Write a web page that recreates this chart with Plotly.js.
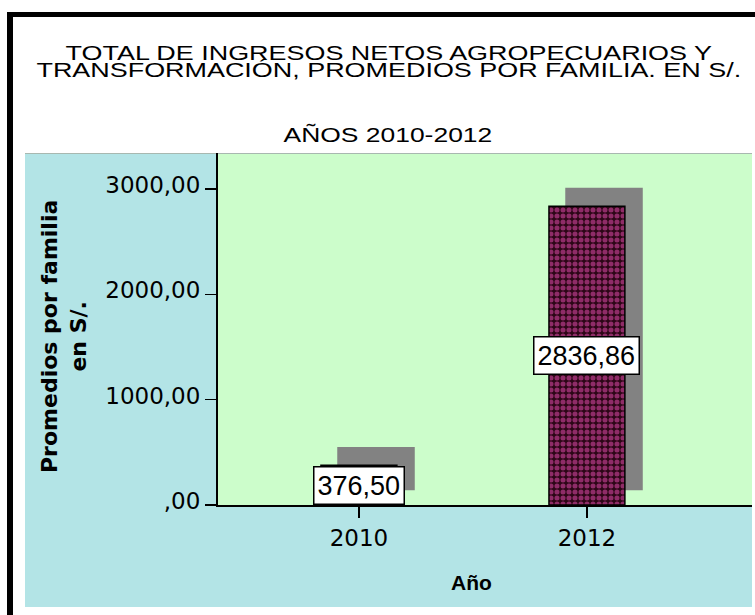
<!DOCTYPE html>
<html><head><meta charset="utf-8">
<script src="https://cdn.plot.ly/plotly-3.0.1.min.js"></script>
<style>html,body{margin:0;padding:0;background:#fff;} #chart{width:755px;height:615px;}</style>
</head><body><div id="chart"></div>
<script>
// ---- data ----
const years = ['2010', '2012'];
const promedios = [376.50, 2836.86];
const valueLabels = ['376,50', '2836,86'];
const yTickVals = [0, 1000, 2000, 3000];
const yTickText = [',00', '1000,00', '2000,00', '3000,00'];
const titleLine1 = 'TOTAL DE INGRESOS NETOS AGROPECUARIOS Y';
const titleLine2 = 'TRANSFORMACIÓN, PROMEDIOS POR FAMILIA. EN S/.';
const subtitle = 'AÑOS 2010-2012';
const yTitle = 'Promedios por familia<br>en S/.';
const xTitle = 'Año';

// ---- style / geometry ----
const W = 755, H = 615, L = 218, R = 3, T = 153, B = 110;
const pw = W - L - R, ph = H - T - B;
const px = x => (x - L) / pw;
const py = y => (H - B - y) / ph;
const shadowBase = 140, shadowRise = 175;
const ARIAL = 'Liberation Sans, Arial, sans-serif';
const DEJAVU = 'DejaVu Sans, Verdana, sans-serif';

const shadow = {
  type: 'bar', x: years,
  y: promedios.map(v => v + shadowRise - shadowBase),
  base: shadowBase, width: 0.34, offset: -0.095,
  marker: {color: '#828282', line: {width: 0}},
  hoverinfo: 'skip', showlegend: false
};
const main = {
  type: 'bar', x: years, y: promedios,
  width: 0.333, offset: -0.1665,
  marker: {
    color: '#2a0514',
    pattern: {shape: '.', fgcolor: '#8f2c68', bgcolor: '#2c0616', size: 6, solidity: 0.55},
    line: {color: '#000', width: 1.5}
  },
  showlegend: false
};

// value labels (x given as category index so numeric-looking names are not misread)
const annotations = years.map((yr, i) => ({
  x: i, y: promedios[i] / 2, xref: 'x', yref: 'y',
  text: valueLabels[i], showarrow: false,
  bgcolor: '#ffffff', bordercolor: '#000', borderwidth: 1.5, borderpad: 3,
  font: {family: ARIAL, size: 27, color: '#000'}
}));
const txt = (text, x, y, size, opts) => Object.assign({
  text, x: px(x), y: py(y), xref: 'paper', yref: 'paper',
  showarrow: false, xanchor: 'center', yanchor: 'middle',
  font: {family: ARIAL, size, color: '#000'}
}, opts || {});
annotations.push(txt(titleLine1 + '<br>' + titleLine2, 389, 65.6, 21));
annotations.push(txt(subtitle, 388, 134, 21));
annotations.push(txt(yTitle, 64, 337, 22, {textangle: -90, font: {family: DEJAVU, size: 22, color: '#000', weight: 'bold'}}));
annotations.push(txt(xTitle, 471, 582, 21, {font: {family: ARIAL, size: 21, color: '#000', weight: 'bold'}}));

const shapes = [
  {type: 'rect', xref: 'paper', yref: 'paper', x0: px(25), x1: px(752), y0: py(607), y1: py(153),
   fillcolor: '#b3e4e6', line: {width: 0}, layer: 'below'},
  {type: 'rect', xref: 'paper', yref: 'paper', x0: 0, x1: 1, y0: 0, y1: 1,
   fillcolor: '#ccfdcb', line: {width: 0}, layer: 'below'},
  {type: 'line', xref: 'paper', yref: 'paper', x0: px(25), x1: px(752), y0: py(153.5), y1: py(153.5),
   line: {color: '#a8b8b0', width: 1}, layer: 'below'},
  {type: 'rect', xref: 'paper', yref: 'paper', x0: px(7), x1: px(13), y0: py(615), y1: py(12),
   fillcolor: '#000', line: {width: 0}},
  {type: 'rect', xref: 'paper', yref: 'paper', x0: px(7), x1: px(755), y0: py(17), y1: py(12),
   fillcolor: '#000', line: {width: 0}}
];

const layout = {
  width: W, height: H,
  margin: {l: L, r: R, t: T, b: B, pad: 0},
  paper_bgcolor: '#ffffff', plot_bgcolor: 'rgba(0,0,0,0)',
  barmode: 'overlay', showlegend: false,
  xaxis: {
    type: 'category', range: [-0.618, 1.724],
    showline: true, linecolor: '#000', linewidth: 2,
    ticks: 'outside', ticklen: 11, tickwidth: 1.5, tickcolor: '#000',
    showgrid: false, zeroline: false,
    tickfont: {family: DEJAVU, size: 23, color: '#000'}
  },
  yaxis: {
    range: [0, 3343],
    tickvals: yTickVals, ticktext: yTickText,
    showline: true, linecolor: '#000', linewidth: 2,
    ticks: 'outside', ticklen: 11, tickwidth: 1.5, tickcolor: '#000',
    ticklabelshift: -4,
    showgrid: false, zeroline: false,
    tickfont: {family: DEJAVU, size: 23, color: '#000'}
  },
  annotations, shapes
};

Plotly.newPlot('chart', [shadow, main], layout, {staticPlot: true}).then(gd => {
  gd.querySelectorAll('text.annotation-text').forEach(t => {
    const c = t.textContent;
    let s = 0;
    if (c.indexOf(titleLine1) === 0) {
      s = 1.283;
      const lines = t.querySelectorAll('tspan.line');
      if (lines.length > 1) lines[1].setAttribute('dy', '0.81em');
    } else if (c === subtitle) {
      s = 1.26;
    }
    if (s) {
      t.style.transformBox = 'fill-box';
      t.style.transformOrigin = 'center';
      t.style.transform = 'scaleX(' + s + ')';
    }
  });
});
</script>
</body></html>
